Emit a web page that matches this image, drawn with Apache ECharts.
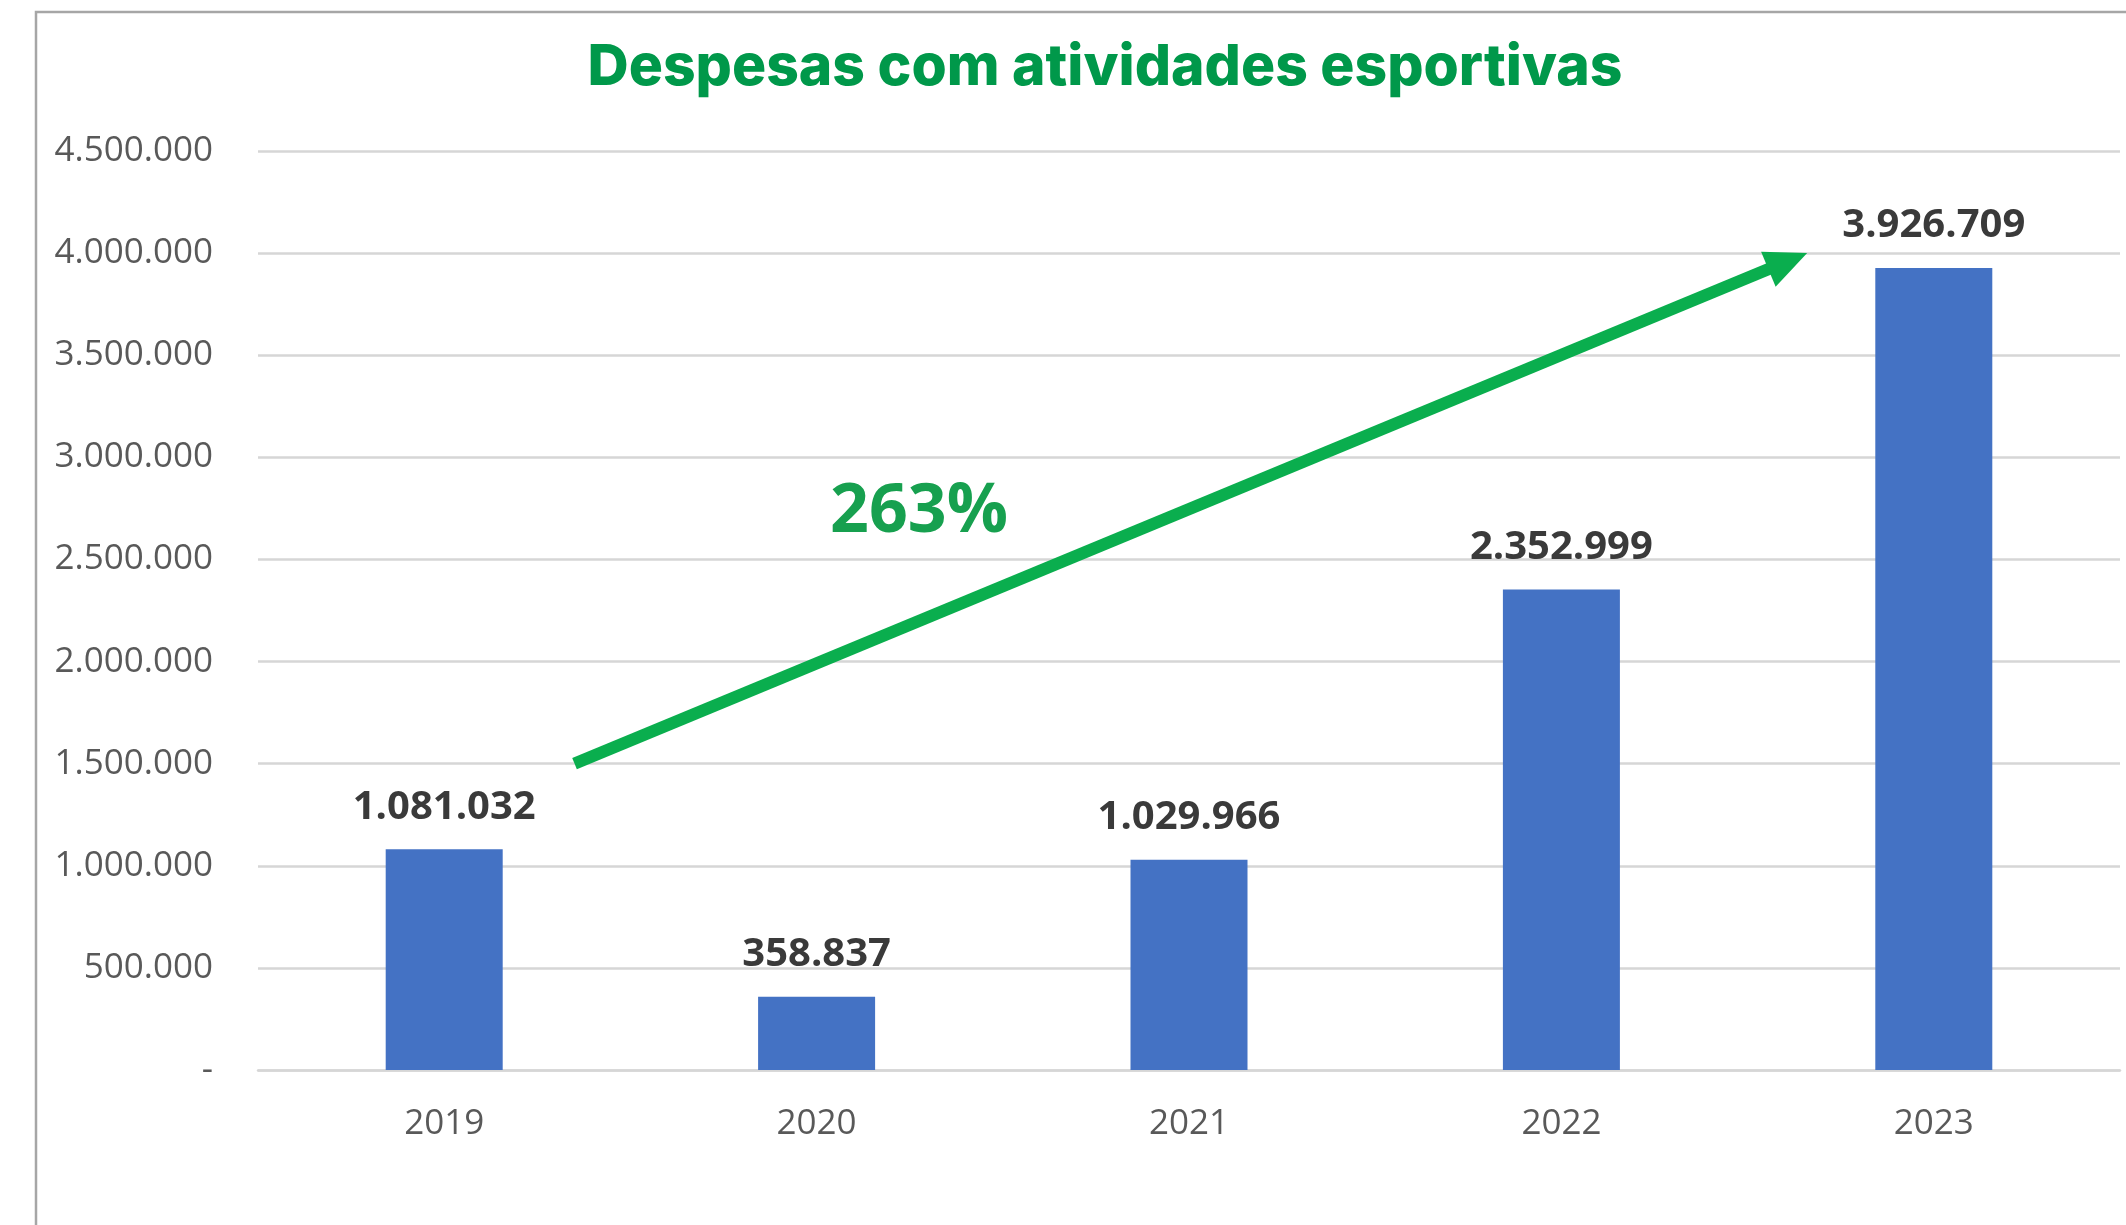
<!DOCTYPE html>
<html lang="pt-BR">
<head>
<meta charset="utf-8">
<title>Despesas com atividades esportivas</title>
<script src="https://cdn.jsdelivr.net/npm/echarts@6/dist/echarts.min.js"></script>
<style>
  html, body { margin: 0; padding: 0; background: #ffffff; }
  #chart { width: 2126px; height: 1225px; }
</style>
</head>
<body>
<div id="chart"></div>
<script>
// Anos e despesas anuais (R$)
const years = ['2019', '2020', '2021', '2022', '2023'];
const expenses = [1081032, 358837, 1029966, 2352999, 3926709];

// Escala do eixo de valores
const axisMin = 0;
const axisMax = 4500000;
const axisStep = 500000;

// Seta de crescimento: de 1,5 mi (pouco depois de 2019) até 4 mi (pouco antes de 2023)
const growthLabel = '263%';
const arrowFrom = { year: '2019', offset: 0.35, value: 1500000 };
const arrowTo = { year: '2023', offset: -0.34, value: 4000000 };

// Formato brasileiro com ponto como separador de milhar
function fmt(v) {
  return String(Math.round(v)).replace(/\B(?=(\d{3})+(?!\d))/g, '.');
}

const chart = echarts.init(document.getElementById('chart'), null, { renderer: 'canvas' });

const option = {
  backgroundColor: '#ffffff',
  animation: false,
  title: {
    text: 'Despesas com atividades esportivas',
    left: 1100,
    top: 34,
    textAlign: 'center',
    textStyle: {
      fontFamily: 'Inter',
      fontWeight: 800,
      fontSize: 57,
      color: '#00984A'
    }
  },
  grid: {
    left: 258,
    right: 6,
    top: 151,
    bottom: 155,
    containLabel: false
  },
  xAxis: {
    type: 'category',
    data: years,
    axisTick: { show: false },
    axisLine: { show: true, lineStyle: { color: '#d6d6d6', width: 2.5 } },
    axisLabel: {
      margin: 37,
      fontFamily: 'Open Sans',
      fontSize: 35,
      color: '#595959'
    }
  },
  yAxis: {
    type: 'value',
    min: axisMin,
    max: axisMax,
    interval: axisStep,
    axisLine: { show: false },
    axisTick: { show: false },
    splitLine: { lineStyle: { color: '#d6d6d6', width: 2.5 } },
    axisLabel: {
      margin: 45,
      fontFamily: 'Open Sans',
      fontSize: 35,
      color: '#595959',
      formatter: v => (v === 0 ? '-' : fmt(v))
    }
  },
  series: [{
    type: 'bar',
    data: expenses,
    barWidth: 117,
    itemStyle: { color: '#4472C4' },
    label: {
      show: true,
      position: 'top',
      distance: 22,
      fontFamily: 'Open Sans',
      fontWeight: 'bold',
      fontSize: 40,
      color: '#3a3a3a',
      formatter: p => fmt(p.value)
    }
  }]
};

chart.setOption(option);

// Anotação: moldura, seta verde e percentual de crescimento
function drawAnnotations() {
  const band = chart.convertToPixel({ xAxisIndex: 0 }, years[1]) - chart.convertToPixel({ xAxisIndex: 0 }, years[0]);
  const px = (pt) => [
    chart.convertToPixel({ xAxisIndex: 0 }, pt.year) + pt.offset * band,
    chart.convertToPixel({ yAxisIndex: 0 }, pt.value)
  ];
  const a = px(arrowFrom);
  const b = px(arrowTo);
  const dx = b[0] - a[0], dy = b[1] - a[1];
  const len = Math.sqrt(dx * dx + dy * dy);
  const ux = dx / len, uy = dy / len;
  const nx = -uy, ny = ux;
  const headLen = 42, headHalf = 19;
  const base = [b[0] - ux * headLen, b[1] - uy * headLen];

  chart.setOption({
    graphic: [
      {
        type: 'rect',
        shape: { x: 36, y: 12, width: 2200, height: 1300 },
        style: { fill: null, stroke: '#a6a6a6', lineWidth: 2.5 },
        silent: true,
        z: 0
      },
      {
        type: 'line',
        shape: { x1: a[0], y1: a[1], x2: base[0] + ux * 4, y2: base[1] + uy * 4 },
        style: { stroke: '#0AAE4E', lineWidth: 12, lineCap: 'butt' },
        silent: true,
        z: 100
      },
      {
        type: 'polygon',
        shape: {
          points: [
            [b[0], b[1]],
            [base[0] + nx * headHalf, base[1] + ny * headHalf],
            [base[0] - nx * headHalf, base[1] - ny * headHalf]
          ]
        },
        style: { fill: '#0AAE4E' },
        silent: true,
        z: 100
      },
      {
        type: 'text',
        x: 919,
        y: 513,
        style: {
          text: growthLabel,
          fontFamily: 'Open Sans',
          fontWeight: 'bold',
          fontSize: 68,
          fill: '#17A04F',
          align: 'center',
          verticalAlign: 'middle'
        },
        silent: true,
        z: 100
      }
    ]
  });
}

drawAnnotations();
</script>
</body>
</html>
